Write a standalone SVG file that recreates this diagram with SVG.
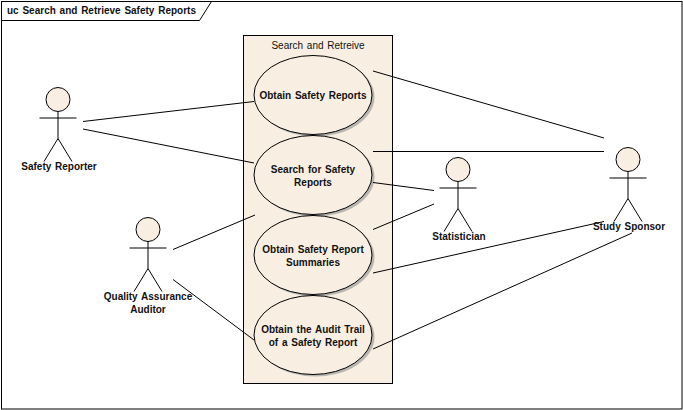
<svg xmlns="http://www.w3.org/2000/svg" width="683" height="410" viewBox="0 0 683 410">
<defs>
<style>
text{font-family:"Liberation Sans",Arial,sans-serif;font-size:10px;word-spacing:1px;fill:#111;text-anchor:middle}
.b{font-weight:bold}
.uc{fill:#f8efe2;stroke:#000;stroke-width:1}
.sh{fill:#b9b6b2;stroke:none}
.hd{fill:#f8efe2;stroke:#000;stroke-width:1}
.a{fill:none;stroke:#000;stroke-width:1}
#connectors line{stroke:#000;stroke-width:1}
</style>
<g id="stick"><circle class="hd" cx="0" cy="0" r="12"/><path class="a" d="M-18.500 18.500H18.500M0 12V39L-14 62M0 39L14 62"/></g>
</defs>
<rect x="0" y="0" width="683" height="410" fill="#fff"/>
<g id="frame">
<rect x="1.500" y="1.500" width="680.500" height="407.500" fill="#fff" stroke="#000"/>
<path d="M1.500 20.500H199.500L211.500 1.500" fill="none" stroke="#000"/>
<text class="b" x="7" y="14" style="text-anchor:start">uc Search and Retrieve Safety Reports</text>
</g>
<g id="boundary">
<rect x="243.500" y="35.500" width="149" height="348" fill="#f8efe2" stroke="#000"/>
<text x="318" y="49">Search and Retreive</text>
</g>
<g id="uc1"><ellipse class="sh" cx="315.500" cy="97" rx="59" ry="39.500"/><ellipse class="uc" cx="313" cy="95" rx="59" ry="39.500"/><text class="b" x="313" y="98.500">Obtain Safety Reports</text></g>
<g id="uc2"><ellipse class="sh" cx="315.500" cy="177" rx="59" ry="39.500"/><ellipse class="uc" cx="313" cy="175" rx="59" ry="39.500"/><text class="b" x="313" y="172.500">Search for Safety</text><text class="b" x="313" y="185.500">Reports</text></g>
<g id="uc3"><ellipse class="sh" cx="315.500" cy="257" rx="59" ry="39.500"/><ellipse class="uc" cx="313" cy="255" rx="59" ry="39.500"/><text class="b" x="313" y="252.500">Obtain Safety Report</text><text class="b" x="313" y="265.500">Summaries</text></g>
<g id="uc4"><ellipse class="sh" cx="315.500" cy="337" rx="59" ry="39.500"/><ellipse class="uc" cx="313" cy="335" rx="59" ry="39.500"/><text class="b" x="313" y="332.500">Obtain the Audit Trail</text><text class="b" x="313" y="345.500">of a Safety Report</text></g>
<g id="connectors">
<line x1="83" y1="121.500" x2="254" y2="101.500"/>
<line x1="83" y1="129" x2="254" y2="163"/>
<line x1="173" y1="249.500" x2="255" y2="215"/>
<line x1="173" y1="279.500" x2="254" y2="340"/>
<line x1="373" y1="71" x2="604" y2="138"/>
<line x1="373" y1="151.500" x2="604" y2="151.500"/>
<line x1="373" y1="182.500" x2="434" y2="190.500"/>
<line x1="373" y1="229.500" x2="434" y2="204"/>
<line x1="373" y1="273" x2="604" y2="221.500"/>
<line x1="373" y1="349" x2="632" y2="233"/>
</g>
<g id="safety-reporter"><use href="#stick" x="58" y="99.500"/><text class="b" x="59" y="170">Safety Reporter</text></g>
<g id="qa-auditor"><use href="#stick" x="148" y="229.500"/><text class="b" x="148" y="300">Quality Assurance</text><text class="b" x="148" y="313">Auditor</text></g>
<g id="statistician"><use href="#stick" x="458" y="169.500"/><text class="b" x="459" y="240">Statistician</text></g>
<g id="study-sponsor"><use href="#stick" x="628" y="159.500"/><text class="b" x="629" y="230">Study Sponsor</text></g>
</svg>
